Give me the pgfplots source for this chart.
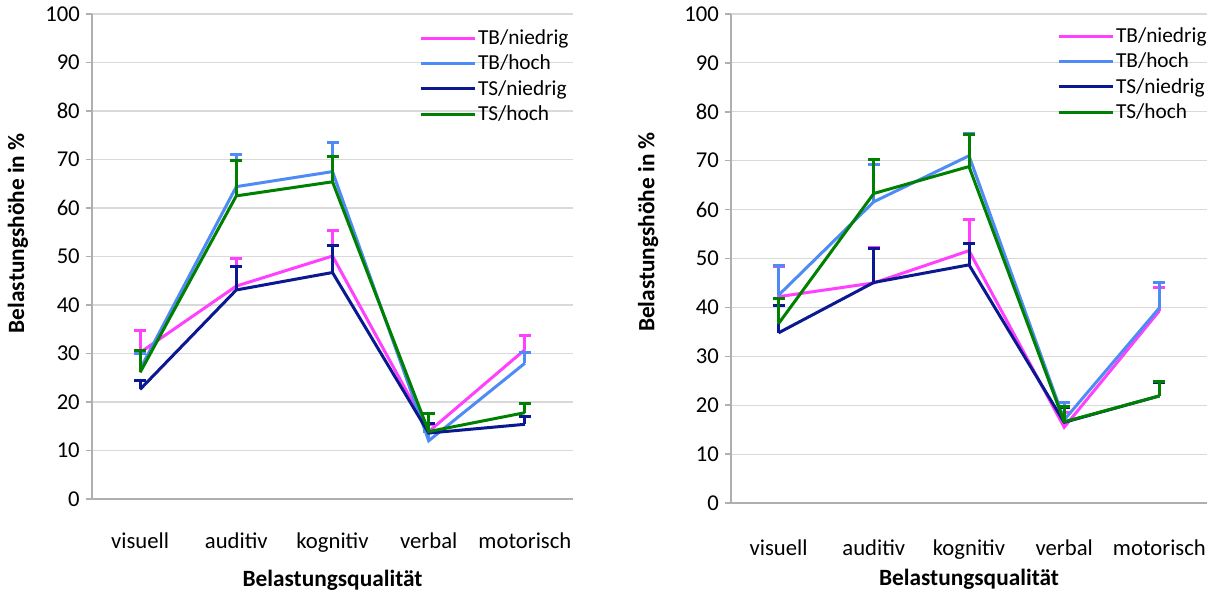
\documentclass[border=0pt]{standalone}
\usepackage{fontspec}
\setmainfont{Carlito}
\usepackage{pgfplots}
\usepackage{pgfplotstable}
\pgfplotsset{compat=1.18}

\definecolor{tbn}{RGB}{255,64,255}
\definecolor{tbh}{RGB}{79,139,245}
\definecolor{tsn}{RGB}{10,25,145}
\definecolor{tsh}{RGB}{0,128,0}
\definecolor{axisgray}{RGB}{175,175,175}
\definecolor{gridgray}{RGB}{217,217,217}

% columns: category index, mean, upper error
\pgfplotstableread{
x y e
0 30.2 4.6
1 43.9 5.7
2 50.1 5.2
3 13.9 1.4
4 30.8 3.0
}\leftTBn
\pgfplotstableread{
x y e
0 26.8 3.2
1 64.4 6.7
2 67.5 6.0
3 12.0 1.9
4 28.0 2.2
}\leftTBh
\pgfplotstableread{
x y e
0 22.6 1.9
1 43.1 4.8
2 46.7 5.5
3 13.6 1.9
4 15.4 1.6
}\leftTSn
\pgfplotstableread{
x y e
0 26.1 4.5
1 62.5 7.3
2 65.4 5.2
3 13.9 3.8
4 17.8 1.9
}\leftTSh

\pgfplotstableread{
x y e
0 42.2 6.1
1 45.0 7.3
2 51.6 6.3
3 15.5 3.0
4 39.3 4.8
}\rightTBn
\pgfplotstableread{
x y e
0 42.5 6.0
1 61.6 7.7
2 71.0 4.6
3 17.0 3.6
4 39.9 5.1
}\rightTBh
\pgfplotstableread{
x y e
0 34.8 5.5
1 45.1 7.0
2 48.7 4.3
3 16.5 3.0
4 21.9 2.7
}\rightTSn
\pgfplotstableread{
x y e
0 36.7 5.2
1 63.3 7.0
2 68.8 6.5
3 16.6 3.1
4 21.9 2.9
}\rightTSh

\pgfplotsset{
  legend image code/.code={\draw[#1, line width=2.25pt] (0pt,0pt) -- (40.5pt,0pt);},
  belastung/.style={
    scale only axis, anchor=south west,
    xmin=-0.5, xmax=4.5, ymin=0, ymax=100,
    xtick={0,...,4},
    xticklabels={visuell,auditiv,kognitiv,verbal,motorisch},
    ytick={0,10,...,100},
    axis x line=bottom, axis y line=left,
    axis line style={draw=axisgray, line width=1.1pt, -},
    ymajorgrids, grid style={draw=gridgray, line width=0.8pt},
    xtick style={draw=none},
    ytick style={draw=axisgray, line width=1.1pt},
    tick align=outside, major tick length=4.5pt,
    /pgf/number format/assume math mode=true,
    yticklabel style={font=\fontsize{17}{20}\selectfont, anchor=east, inner sep=0pt, xshift=-4.5pt},
    xticklabel style={font=\fontsize{17}{20}\selectfont, anchor=base, inner sep=0pt},
    xlabel={\textbf{Belastungsqualität}},
    ylabel={\textbf{Belastungshöhe in \%}},
    xlabel style={font=\fontsize{17.5}{20}\selectfont, anchor=base, inner sep=0pt},
    ylabel style={font=\fontsize{17.5}{20}\selectfont, anchor=center, inner sep=0pt},
    legend style={draw=none, fill=none, anchor=north west,
      font=\fontsize{16}{19}\selectfont, cells={anchor=west},
      nodes={inner sep=1.5pt}, row sep=3.4pt},
    every axis plot/.append style={line width=2.25pt, mark=none, sharp plot},
    error bars/y dir=plus, error bars/y explicit,
    error bars/error bar style={line width=2.25pt},
    error bars/error mark options={rotate=90, line width=2.25pt, mark size=4.5pt},
  },
}

\begin{document}
\begin{tikzpicture}
\path[use as bounding box] (0,0) rectangle (913.5pt,444.75pt);

\begin{axis}[belastung,
  at={(69pt,70.5pt)}, width=360.75pt, height=363.75pt,
  xticklabel style={yshift=-32.5pt},
  xlabel style={at={(rel axis cs:0.5,0)}, yshift=-65.5pt},
  ylabel style={at={(rel axis cs:-0.154,0.548)}},
  legend style={at={(rel axis cs:0.671,0.978)}}]
\addplot[color=tbn] table[x=x, y=y, y error=e] {\leftTBn};
\addlegendentry{TB/niedrig}
\addplot[color=tbh] table[x=x, y=y, y error=e] {\leftTBh};
\addlegendentry{TB/hoch}
\addplot[color=tsn] table[x=x, y=y, y error=e] {\leftTSn};
\addlegendentry{TS/niedrig}
\addplot[color=tsh] table[x=x, y=y, y error=e] {\leftTSh};
\addlegendentry{TS/hoch}
\end{axis}

\begin{axis}[belastung,
  at={(548.25pt,67.5pt)}, width=357pt, height=366.75pt,
  xticklabel style={yshift=-35pt},
  xlabel style={at={(rel axis cs:0.5,0)}, yshift=-61.5pt},
  ylabel style={at={(rel axis cs:-0.174,0.554)}},
  legend style={at={(rel axis cs:0.676,0.982)}}]
\addplot[color=tbn] table[x=x, y=y, y error=e] {\rightTBn};
\addlegendentry{TB/niedrig}
\addplot[color=tbh] table[x=x, y=y, y error=e] {\rightTBh};
\addlegendentry{TB/hoch}
\addplot[color=tsn] table[x=x, y=y, y error=e] {\rightTSn};
\addlegendentry{TS/niedrig}
\addplot[color=tsh] table[x=x, y=y, y error=e] {\rightTSh};
\addlegendentry{TS/hoch}
\end{axis}
\end{tikzpicture}
\end{document}
